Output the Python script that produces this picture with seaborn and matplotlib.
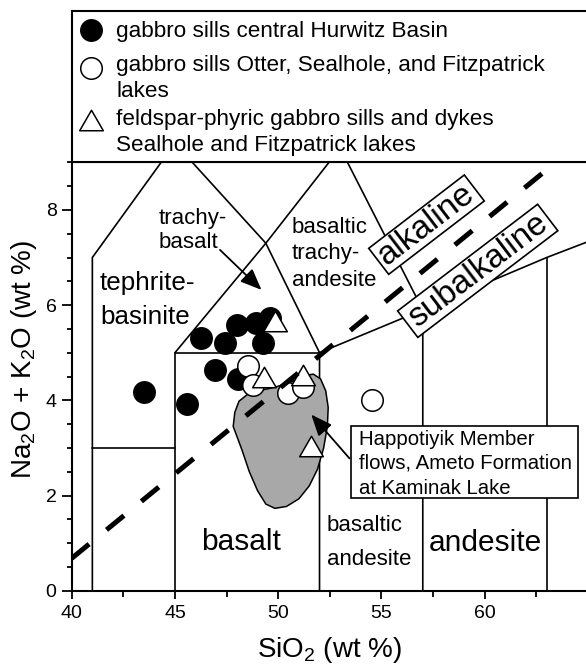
import matplotlib
matplotlib.use("Agg")
import matplotlib.pyplot as plt
import seaborn as sns
import pandas as pd
import numpy as np
from matplotlib.patches import Polygon
from matplotlib.path import Path
from matplotlib.markers import MarkerStyle
from matplotlib.ticker import MultipleLocator

# ---------------- data ----------------
hurwitz_sio2 = [43.5, 45.6, 46.25, 46.95, 47.42, 47.98, 48.03, 48.92, 49.24, 49.62]
hurwitz_alk = [4.17, 3.93, 5.31, 4.64, 5.21, 5.58, 4.44, 5.63, 5.21, 5.73]
otter_sio2 = [48.55, 48.77, 50.48, 51.2, 54.52]
otter_alk = [4.73, 4.33, 4.15, 4.27, 4.01]
feld_sio2 = [49.3, 49.84, 51.2, 51.61]
feld_alk = [4.5, 5.66, 4.54, 3.03]

legend_labels = ["gabbro sills central Hurwitz Basin",
                 "gabbro sills Otter, Sealhole, and Fitzpatrick\nlakes",
                 "feldspar-phyric gabbro sills and dykes\nSealhole and Fitzpatrick lakes"]

# TAS field boundaries (SiO2, Na2O+K2O)
tas_lines = [
    [(41, 0), (41, 7), (45, 9.4)],
    [(45, 9.4), (49.4, 7.3), (52, 5)],
    [(41, 3), (45, 3)],
    [(45, 0), (45, 5), (52, 5)],
    [(45, 5), (49.4, 7.3), (53, 9.3)],
    [(52, 0), (52, 5), (57, 5.9)],
    [(57, 0), (57, 5.9), (53, 9.3)],
    [(57, 5.9), (63, 7), (69, 8)],
    [(63, 0), (63, 7)],
]
# alkaline / subalkaline divide
divide_x = [40.0, 62.85]
divide_y = [0.68, 8.79]

# Happotiyik Member field outline
happ_x = [47.82, 47.9, 48.1, 48.5, 49.0, 49.6, 50.2, 50.8, 51.3, 51.7, 52.05, 52.3,
          52.42, 52.38, 52.2, 51.9, 51.5, 51.0, 50.4, 49.84, 49.4, 49.0, 48.6, 48.25, 47.95]
happ_y = [3.45, 3.75, 3.98, 4.12, 4.2, 4.25, 4.32, 4.42, 4.52, 4.55, 4.45, 4.2,
          3.85, 3.45, 3.0, 2.55, 2.2, 1.93, 1.77, 1.73, 1.82, 2.1, 2.5, 2.95, 3.3]

x_ticks = [40, 45, 50, 55, 60]
y_ticks = [0, 2, 4, 6, 8]

# ---------------- style ----------------
sns.set_style("ticks")
plt.rcParams["font.family"] = ["Liberation Sans", "DejaVu Sans"]
plt.rcParams["mathtext.fontset"] = "custom"
plt.rcParams["mathtext.rm"] = "Liberation Sans"
plt.rcParams["mathtext.default"] = "regular"
for k in ["text.color", "axes.labelcolor", "xtick.color", "ytick.color", "axes.edgecolor"]:
    plt.rcParams[k] = "black"

W, H = 586, 665
fig = plt.figure(figsize=(W / 100, H / 100), dpi=100)
fig.patch.set_facecolor("white")

ax_left, ax_right, ax_top, ax_bot = 71.7, 588.0, 162.3, 590.7
ax = fig.add_axes([ax_left / W, 1 - ax_bot / H, (ax_right - ax_left) / W, (ax_bot - ax_top) / H])
ax.set_xlim(40, 65)
ax.set_ylim(0, 9)

# field lines
for seg in tas_lines:
    xs, ys = zip(*seg)
    ax.plot(xs, ys, color="black", lw=1.2, zorder=2, solid_joinstyle="miter")

# Happotiyik field
ax.add_patch(Polygon(list(zip(happ_x, happ_y)), closed=True, fc="#a8a8a8",
                     ec="black", lw=1.1, zorder=3, joinstyle="round"))

# points
tri = MarkerStyle(Path([(-1, -0.866), (1, -0.866), (0, 0.866), (-1, -0.866)],
                       [Path.MOVETO, Path.LINETO, Path.LINETO, Path.CLOSEPOLY]))
df_h = pd.DataFrame({"SiO2": hurwitz_sio2, "alk": hurwitz_alk})
df_o = pd.DataFrame({"SiO2": otter_sio2, "alk": otter_alk})
df_f = pd.DataFrame({"SiO2": feld_sio2, "alk": feld_alk})
sns.scatterplot(data=df_h, x="SiO2", y="alk", ax=ax, marker="o", s=240,
                color="black", edgecolor="black", linewidth=1.0, zorder=5, legend=False)
sns.scatterplot(data=df_o, x="SiO2", y="alk", ax=ax, marker="o", s=240,
                color="white", edgecolor="black", linewidth=1.1, zorder=5, legend=False)
sns.scatterplot(data=df_f, x="SiO2", y="alk", ax=ax, marker=tri, s=290,
                color="white", edgecolor="black", linewidth=1.1, zorder=6, legend=False)

# dashed divide
ax.plot(divide_x, divide_y, color="black", lw=3.6, linestyle=(0, (4.5, 4.5)),
        dash_capstyle="butt", zorder=7)

# region labels
fs_s, fs_m, fs_l = 16, 18.7, 21.5
ax.text(44.19, 7.71, "trachy-", fontsize=fs_s, va="baseline", zorder=8)
ax.text(44.19, 7.21, "basalt", fontsize=fs_s, va="baseline", zorder=8)
ax.annotate("", xy=(49.19, 6.32), xytext=(47.18, 7.16),
            arrowprops=dict(arrowstyle="-|>,head_length=0.65,head_width=0.27",
                            color="black", lw=1.3, shrinkA=0, shrinkB=0,
                            mutation_scale=20), zorder=8)
ax.text(41.37, 6.31, "tephrite-", fontsize=fs_m, va="baseline", zorder=8)
ax.text(41.37, 5.61, "basinite", fontsize=fs_m, va="baseline", zorder=8)
for t, yb in zip(["basaltic", "trachy-", "andesite"], [7.51, 6.96, 6.40]):
    ax.text(50.67, yb, t, fontsize=fs_s, va="baseline", zorder=8)
ax.text(52.34, 1.245, "basaltic", fontsize=fs_s, va="baseline", zorder=8)
ax.text(52.34, 0.54, "andesite", fontsize=fs_s, va="baseline", zorder=8)
ax.text(48.18, 0.85, "basalt", fontsize=fs_l, va="baseline", ha="center", zorder=8)
ax.text(60.04, 0.835, "andesite", fontsize=fs_l, va="baseline", ha="center", zorder=8)

# Happotiyik box
ax.add_patch(Polygon([(53.5, 1.94), (64.53, 1.94), (64.53, 3.45), (53.5, 3.45)],
                     closed=True, fc="white", ec="black", lw=1.2, zorder=8))
for t, yb in zip(["Happotiyik Member", "flows, Ameto Formation", "at Kaminak Lake"],
                 [3.06, 2.56, 2.03]):
    ax.text(53.9, yb, t, fontsize=14.7, va="baseline", zorder=9)
ax.annotate("", xy=(51.6, 3.70), xytext=(53.45, 2.78),
            arrowprops=dict(arrowstyle="-|>,head_length=0.65,head_width=0.27",
                            color="black", lw=1.3, shrinkA=0, shrinkB=0,
                            mutation_scale=20), zorder=8)

# rotated boxes
def rot_box(cx, cy, w_px, h_px, ang, text, fs):
    X, Y = ax.transData.transform((cx, cy))
    a = np.deg2rad(ang)
    u = np.array([np.cos(a), np.sin(a)])
    v = np.array([-np.sin(a), np.cos(a)])
    corners = [np.array([X, Y]) + s * w_px / 2 * u + t * h_px / 2 * v
               for s, t in [(-1, -1), (1, -1), (1, 1), (-1, 1)]]
    data = ax.transData.inverted().transform(corners)
    ax.add_patch(Polygon(data, closed=True, fc="white", ec="black", lw=1.2, zorder=8))
    ax.text(cx, cy, text, fontsize=fs, rotation=ang, rotation_mode="anchor",
            ha="center", va="center", zorder=9)

rot_box(57.18, 7.69, 120.5, 32.8, 37.5, "alkaline", 24)
rot_box(59.66, 6.72, 176, 33.3, 37.3, "subalkaline", 24)

# axes styling
ax.set_xticks(x_ticks)
ax.set_yticks(y_ticks)
ax.xaxis.set_minor_locator(MultipleLocator(2.5))
ax.yaxis.set_minor_locator(MultipleLocator(0.5))
ax.tick_params(axis="x", which="major", length=6, width=1.3, pad=4.2, labelsize=14, direction="out")
ax.tick_params(axis="x", which="minor", length=4, width=1.3, direction="out")
ax.tick_params(axis="y", which="major", length=7.2, width=1.3, pad=3.7, labelsize=14, direction="out")
ax.tick_params(axis="y", which="minor", length=3.6, width=1.3, direction="out")
for sp in ["left", "bottom", "top", "right"]:
    ax.spines[sp].set_linewidth(1.5)
    ax.spines[sp].set_color("black")
ax.set_xlabel("SiO$_2$ (wt %)", fontsize=20)
ax.set_ylabel("Na$_2$O + K$_2$O (wt %)", fontsize=20)
ax.xaxis.set_label_coords(0.5, -0.103)
ax.yaxis.set_label_coords(-0.0624, 0.539)

# legend box
lax = fig.add_axes([ax_left / W, 1 - ax_top / H, 1.02 - ax_left / W, (ax_top - 11) / H])
lax.set_xlim(ax_left, ax_left + (1.02 - ax_left / W) * W)
lax.set_ylim(ax_top, 11)
lax.set_xticks([])
lax.set_yticks([])
for sp in lax.spines.values():
    sp.set_linewidth(1.5)
    sp.set_color("black")
lax.scatter([91], [30], s=240, marker="o", color="black", edgecolor="black", lw=1.0)
lax.scatter([91], [68], s=240, marker="o", color="white", edgecolor="black", lw=1.1)
lax.scatter([91], [120], s=290, marker=tri, color="white", edgecolor="black", lw=1.1)
lines = [(legend_labels[0], 36.5), (legend_labels[1].split("\n")[0], 70.5),
         (legend_labels[1].split("\n")[1], 97), (legend_labels[2].split("\n")[0], 125),
         (legend_labels[2].split("\n")[1], 151.5)]
for t, yb in lines:
    lax.text(116, yb, t, fontsize=16.2, va="baseline")

fig.savefig("out.png", dpi=100)
